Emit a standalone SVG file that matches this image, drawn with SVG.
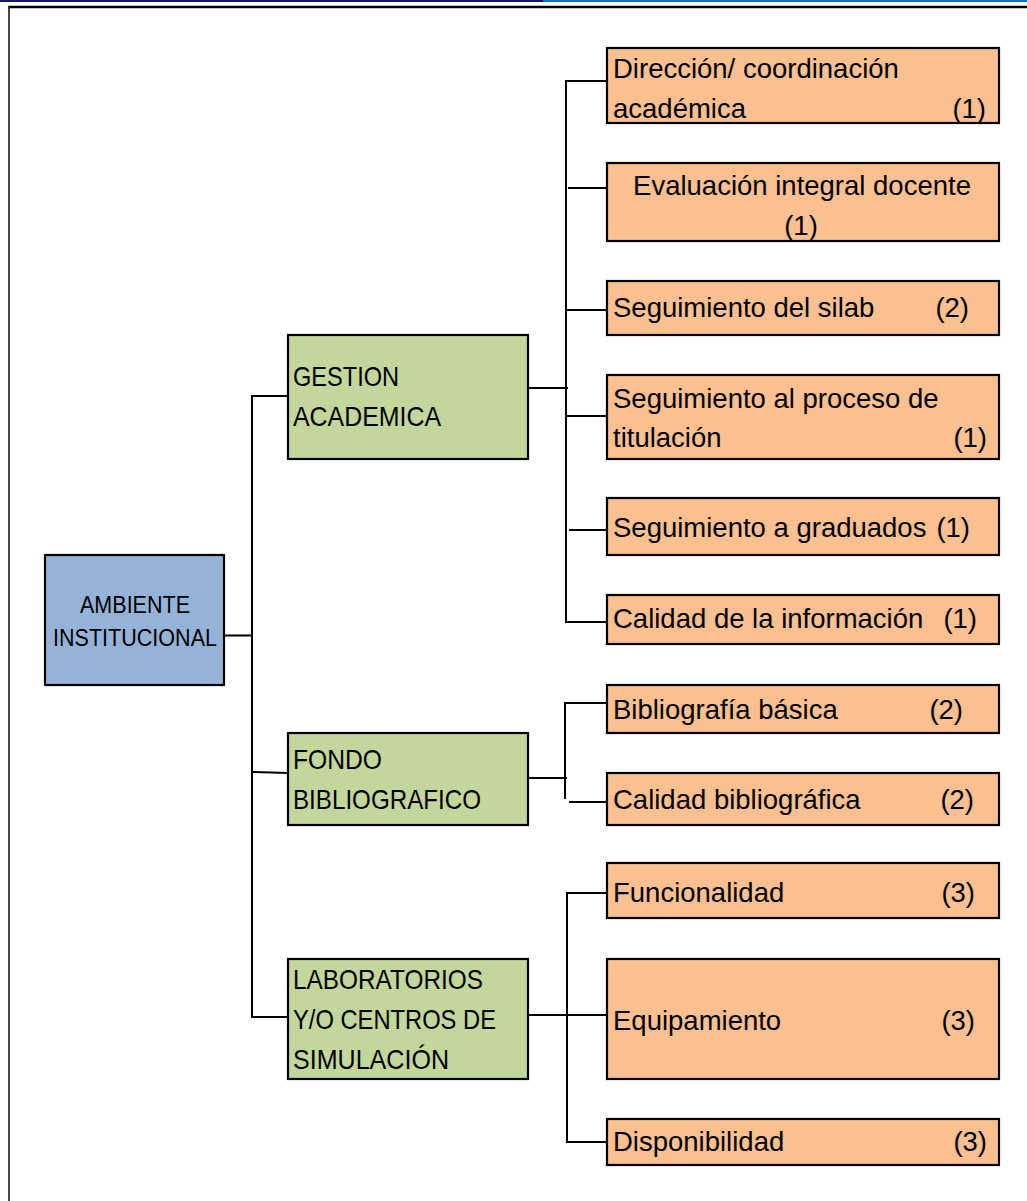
<svg xmlns="http://www.w3.org/2000/svg" width="1027" height="1201" viewBox="0 0 1027 1201">
<style>
.t{font-family:"Liberation Sans",Arial,sans-serif;font-size:27.5px;fill:#000}
.b{font-family:"Liberation Sans",Arial,sans-serif;font-size:23px;fill:#000}
.o{fill:#fac090;stroke:#000;stroke-width:2.2}
.g{fill:#c3d69b;stroke:#000;stroke-width:2.2}
.bl{fill:#95b3d7;stroke:#000;stroke-width:2.2}
.c{stroke:#000;stroke-width:2;fill:none}
.e{text-anchor:end}
.m{text-anchor:middle}
</style>
<rect x="0" y="0" width="1027" height="1201" fill="#fff"/>
<g id="frame">
<rect x="0" y="0" width="543" height="2" fill="#17195a"/>
<rect x="543" y="0" width="484" height="2" fill="#1b6cc0"/>
<line x1="8" y1="7" x2="1027" y2="7" stroke="#000" stroke-width="2.5"/>
<line x1="9" y1="6" x2="9" y2="1201" stroke="#333" stroke-width="1.8"/>
</g>
<g id="connectors">
<polyline class="c" points="224,635.5 253,635.5"/>
<polyline class="c" points="293,396 252,396 252,1017 288,1017"/>
<polyline class="c" points="253,772 288,773"/>
<polyline class="c" points="528,388 568,388"/>
<polyline class="c" points="607,81 566,81 566,622 607,622"/>
<polyline class="c" points="568,188 607,188"/>
<polyline class="c" points="566,310 607,310"/>
<polyline class="c" points="566,416 607,416"/>
<polyline class="c" points="569,530 607,530"/>
<polyline class="c" points="528,778 567,778"/>
<polyline class="c" points="607,703 565,703 565,799"/>
<polyline class="c" points="569,802 607,802"/>
<polyline class="c" points="528,1015 607,1015"/>
<polyline class="c" points="607,893 567,893 567,1142 607,1142"/>
</g>
<g id="ambiente">
<rect class="bl" x="45" y="555" width="179" height="130"/>
<text class="b m" x="135" y="613" textLength="110" lengthAdjust="spacingAndGlyphs">AMBIENTE</text>
<text class="b m" x="135" y="646" textLength="164" lengthAdjust="spacingAndGlyphs">INSTITUCIONAL</text>
</g>
<g id="gestion">
<rect class="g" x="288" y="335" width="240" height="124"/>
<text class="t" x="293" y="386" textLength="106" lengthAdjust="spacingAndGlyphs">GESTION</text>
<text class="t" x="293" y="426" textLength="148" lengthAdjust="spacingAndGlyphs">ACADEMICA</text>
</g>
<g id="fondo">
<rect class="g" x="288" y="733" width="240" height="92"/>
<text class="t" x="293" y="769" textLength="89" lengthAdjust="spacingAndGlyphs">FONDO</text>
<text class="t" x="293" y="809" textLength="188" lengthAdjust="spacingAndGlyphs">BIBLIOGRAFICO</text>
</g>
<g id="laboratorios">
<rect class="g" x="288" y="959" width="240" height="120"/>
<text class="t" x="293" y="989" textLength="190" lengthAdjust="spacingAndGlyphs">LABORATORIOS</text>
<text class="t" x="293" y="1029" textLength="203" lengthAdjust="spacingAndGlyphs">Y/O CENTROS DE</text>
<text class="t" x="293" y="1069" textLength="156" lengthAdjust="spacingAndGlyphs">SIMULACIÓN</text>
</g>
<g id="direccion">
<rect class="o" x="607" y="48" width="392" height="75"/>
<text class="t" x="613" y="78">Dirección/ coordinación</text>
<text class="t" x="613" y="118">académica</text>
<text class="t e" x="986" y="118">(1)</text>
</g>
<g id="evaluacion">
<rect class="o" x="607" y="163" width="392" height="78"/>
<text class="t m" x="802" y="195">Evaluación integral docente</text>
<text class="t m" x="801" y="235">(1)</text>
</g>
<g id="silab">
<rect class="o" x="607" y="281" width="392" height="54"/>
<text class="t" x="613" y="317">Seguimiento del silab</text>
<text class="t e" x="969" y="317">(2)</text>
</g>
<g id="titulacion">
<rect class="o" x="607" y="375" width="392" height="84"/>
<text class="t" x="613" y="408">Seguimiento al proceso de</text>
<text class="t" x="613" y="447">titulación</text>
<text class="t e" x="987" y="447">(1)</text>
</g>
<g id="graduados">
<rect class="o" x="607" y="498" width="392" height="57"/>
<text class="t" x="613" y="537">Seguimiento a graduados</text>
<text class="t e" x="970" y="537">(1)</text>
</g>
<g id="informacion">
<rect class="o" x="607" y="595" width="392" height="49"/>
<text class="t" x="613" y="628">Calidad de la información</text>
<text class="t e" x="977" y="628">(1)</text>
</g>
<g id="basica">
<rect class="o" x="607" y="685" width="392" height="48"/>
<text class="t" x="613" y="719">Bibliografía básica</text>
<text class="t e" x="963" y="719">(2)</text>
</g>
<g id="calidadbib">
<rect class="o" x="607" y="773" width="392" height="52"/>
<text class="t" x="613" y="809">Calidad bibliográfica</text>
<text class="t e" x="974" y="809">(2)</text>
</g>
<g id="funcionalidad">
<rect class="o" x="607" y="863" width="392" height="55"/>
<text class="t" x="613" y="902">Funcionalidad</text>
<text class="t e" x="975" y="902">(3)</text>
</g>
<g id="equipamiento">
<rect class="o" x="607" y="959" width="392" height="120"/>
<text class="t" x="613" y="1030">Equipamiento</text>
<text class="t e" x="975" y="1030">(3)</text>
</g>
<g id="disponibilidad">
<rect class="o" x="607" y="1119" width="392" height="46"/>
<text class="t" x="613" y="1151">Disponibilidad</text>
<text class="t e" x="987" y="1151">(3)</text>
</g>
</svg>
